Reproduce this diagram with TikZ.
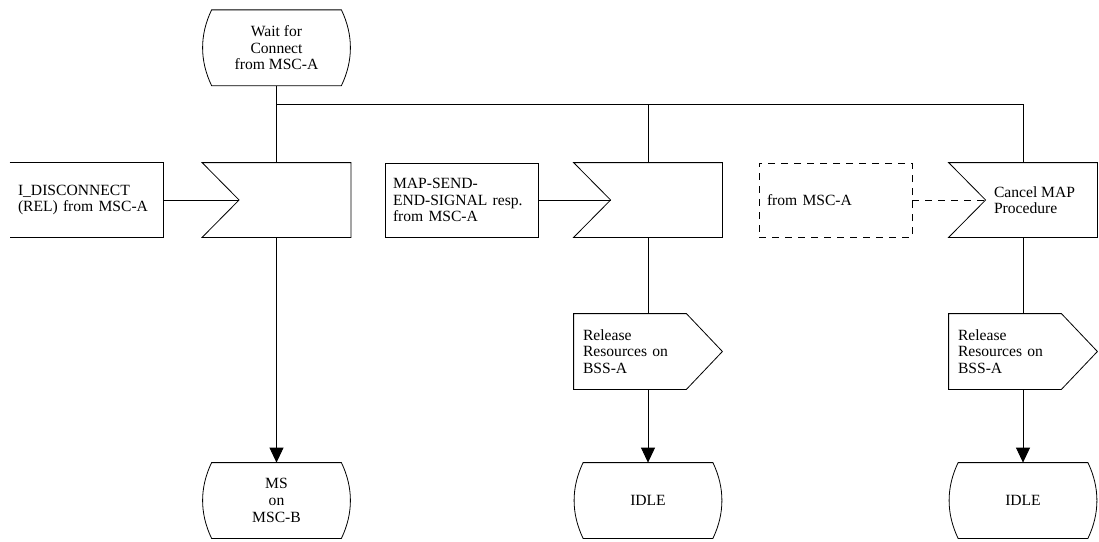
\documentclass[tikz,border=0pt]{standalone}
\usepackage{fontspec}
\setmainfont{Liberation Serif}
\usetikzlibrary{arrows.meta}
\newcommand{\stateshape}[1]{\draw ([xshift=9pt]#1.north west) -- ([xshift=-9pt]#1.north east) .. controls +(12,25) and +(12,-25) .. ([xshift=-9pt]#1.south east) -- ([xshift=9pt]#1.south west) .. controls +(-12,-25) and +(-12,25) .. ([xshift=9pt]#1.north west) -- cycle;}
\newcommand{\inputshape}[1]{\draw (#1.north west) -- (#1.north east) -- (#1.south east) -- (#1.south west) -- ([xshift=37pt]#1.west) -- cycle;}
\newcommand{\outputshape}[1]{\draw (#1.north west) -- ([xshift=-36pt]#1.north east) -- (#1.east) -- ([xshift=-36pt]#1.south east) -- (#1.south west) -- cycle;}
\tikzset{
  every node/.style={font=\fontsize{15.6}{16.6}\selectfont},
  state/.style={minimum width=147pt, minimum height=75pt, inner sep=0pt, align=center},
  inputbox/.style={minimum width=148pt, minimum height=74pt, inner sep=0pt},
  outbox/.style={text width=130pt, inner xsep=9pt, inner ysep=0pt, minimum height=75pt, align=left},
  sigbox/.style={text width=137pt, inner xsep=8pt, inner ysep=0pt, minimum height=74pt, align=left},
  flow/.style={-{Triangle[length=15pt,width=14pt]}},
}
\begin{document}
\begin{tikzpicture}[x=1pt, y=-1pt, line width=0.8pt]
\useasboundingbox (0,0) rectangle (1099,541);
% start state
\node[state] (s0) at (276.5,47.75) {Wait for\\Connect\\from MSC-A};
\stateshape{s0}
% column 1
\node[inputbox] (in1) at (276.5,200) {};
\inputshape{in1}
\node[sigbox] (box1) at (86.5,200) {I\_DISCONNECT\\(REL) from MSC-A};
\draw (box1.north west) -- (box1.north east) -- (box1.south east) -- (box1.south west);
\node[state] (s3) at (276.5,500.5) {MS\\on\\MSC-B};
\stateshape{s3}
% column 2
\node[inputbox] (in2) at (648,200) {};
\inputshape{in2}
\node[sigbox, draw] (box2) at (461.5,200) {MAP-SEND-\\END-SIGNAL resp.\\from MSC-A};
\node[outbox] (out2) at (648,351.5) {Release\\Resources on\\BSS-A};
\outputshape{out2}
\node[state] (idle2) at (648,500.5) {IDLE};
\stateshape{idle2}
% column 3
\node[inputbox, label={[anchor=west, inner sep=0pt, xshift=45pt, align=left]west:Cancel MAP\\Procedure}] (in3) at (1023,200) {};
\inputshape{in3}
\node[sigbox, draw, dashed, dash pattern=on 7pt off 6pt] (box3) at (835.5,200) {from MSC-A};
\node[outbox] (out3) at (1023,351.5) {Release\\Resources on\\BSS-A};
\outputshape{out3}
\node[state] (idle3) at (1023,500.5) {IDLE};
\stateshape{idle3}
% connectors
\coordinate (bus) at (1023,104);
\draw (s0.south) -- (s0.south |- bus) -- (bus);
\draw (s0.south |- bus) -- (in1.north);
\draw (in2.north |- bus) -- (in2.north);
\draw (bus) -- (in3.north);
\draw (box1.east) -- ([xshift=37pt]in1.west);
\draw (box2.east) -- ([xshift=37pt]in2.west);
\draw[dash pattern=on 7pt off 6pt] (box3.east) -- ([xshift=37pt]in3.west);
\draw[flow] (in1.south) -- (s3.north);
\draw (in2.south) -- (out2.north -| in2.south);
\draw[flow] (out2.south -| in2.south) -- (idle2.north);
\draw (in3.south) -- (out3.north -| in3.south);
\draw[flow] (out3.south -| in3.south) -- (idle3.north);
\end{tikzpicture}
\end{document}
